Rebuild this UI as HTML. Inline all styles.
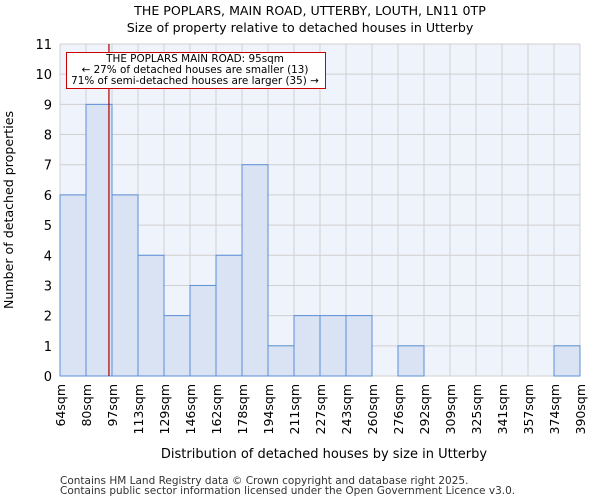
<!DOCTYPE html>
<html><head><meta charset="utf-8"><style>
body{margin:0;background:#fff;font-family:"DejaVu Sans","Liberation Sans",sans-serif}
</style></head><body>
<svg id="c" width="600" height="500" xmlns="http://www.w3.org/2000/svg" font-family="DejaVu Sans, Liberation Sans, sans-serif">
<text x="310" y="15" text-anchor="middle" font-size="12.6">THE POPLARS, MAIN ROAD, UTTERBY, LOUTH, LN11 0TP</text>
<text x="300" y="32" text-anchor="middle" font-size="12.6">Size of property relative to detached houses in Utterby</text>
<rect x="60" y="44" width="520" height="332" fill="#eff3fc"/>
<g id="grid"></g><g id="bars"></g><g id="axes"></g>
<text x="324" y="458" text-anchor="middle" font-size="13">Distribution of detached houses by size in Utterby</text>
<text transform="translate(13,210) rotate(-90)" text-anchor="middle" font-size="12.6">Number of detached properties</text>
<text x="60" y="484" font-size="10.5" fill="#333">Contains HM Land Registry data © Crown copyright and database right 2025.</text>
<text x="60" y="494" font-size="10.5" fill="#333">Contains public sector information licensed under the Open Government Licence v3.0.</text>
</svg>
<script>
const categories=["64sqm","80sqm","97sqm","113sqm","129sqm","146sqm","162sqm","178sqm","194sqm","211sqm","227sqm","243sqm","260sqm","276sqm","292sqm","309sqm","325sqm","341sqm","357sqm","374sqm","390sqm"];
const counts=[6,9,6,4,2,3,4,7,1,2,2,2,0,1,0,0,0,0,0,1];
const yTicks=[0,1,2,3,4,5,6,7,8,9,10,11];
const edgeValues=[64,80,97,113,129,146,162,178,194,211,227,243,260,276,292,309,325,341,357,374,390];
const markerValue=95;
const NS="http://www.w3.org/2000/svg";
const X0=60,X1=580,Y0=376,Y1=44,YMAX=11;
const nb=counts.length,bw=(X1-X0)/nb;
const x=i=>X0+i*bw, y=v=>Y0-(v/YMAX)*(Y0-Y1);
function mk(t,a,p){const e=document.createElementNS(NS,t);for(const k in a)e.setAttribute(k,a[k]);p.appendChild(e);return e;}
const g=document.getElementById('grid'),b=document.getElementById('bars'),ax=document.getElementById('axes');
yTicks.forEach(v=>{
 const l=mk('line',{x1:X0,x2:X1,y1:y(v),y2:y(v),stroke:'#d0d0d0','stroke-width':1},g);
 
 
 const t=mk('text',{x:X0-8,y:y(v)+5,'text-anchor':'end','font-size':13},ax);t.textContent=v;
 
 
});
categories.forEach((c,i)=>{
 const l=mk('line',{x1:x(i),x2:x(i),y1:Y1,y2:Y0,stroke:'#d0d0d0','stroke-width':1},g);
 
 
 const t=mk('text',{transform:`translate(${x(i)+5},${Y0+8}) rotate(-90)`,'text-anchor':'end','font-size':12.5},ax);t.textContent=c;
 
 
});
counts.forEach((v,i)=>{
 if(v<=0)return;
 const r=mk('rect',{x:x(i),y:y(v),width:bw,height:Y0-y(v),fill:'#dae3f3',stroke:'#5a8fd6','stroke-width':1},b);
 
 
});
let k=0;while(k<edgeValues.length-2&&edgeValues[k+1]<markerValue)k++;
const mx=x(k)+bw*(markerValue-edgeValues[k])/(edgeValues[k+1]-edgeValues[k]);
const ml=mk('line',{x1:mx,x2:mx,y1:Y1,y2:Y0,stroke:'#aa0000','stroke-width':1.2},ax);


const bx=mk('rect',{x:66.5,y:52.5,width:259,height:36,fill:'#fff',stroke:'#cc0000','stroke-width':1},ax);


[["THE POPLARS MAIN ROAD: 95sqm",62],["← 27% of detached houses are smaller (13)",73],["71% of semi-detached houses are larger (35) →",84]].forEach(([s,yy],i)=>{
 const t=mk('text',{x:195,y:yy,'text-anchor':'middle','font-size':10.4},ax);t.textContent=s;
 
 
});
</script>
</body></html>
